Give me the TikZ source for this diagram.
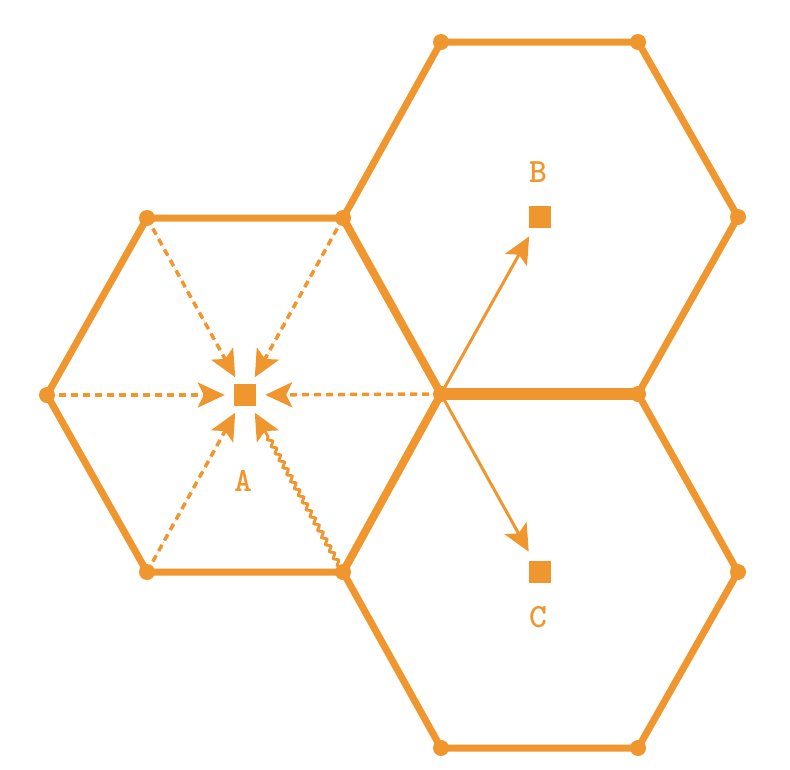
\documentclass[tikz,border=0pt]{standalone}
\usepackage{fontspec}
\usetikzlibrary{arrows.meta,decorations.pathmorphing}
\definecolor{hexor}{HTML}{F0962E}
\begin{document}
\begin{tikzpicture}[x=1pt,y=-1pt,
  edge/.style={draw=hexor,line width=7pt,line cap=round,line join=round},
  vdot/.style={circle,fill=hexor,minimum size=16pt,inner sep=0pt},
  sq/.style={rectangle,fill=hexor,minimum size=22pt,inner sep=0pt},
  target/.style={circle,minimum size=40pt,inner sep=0pt},
  bigtip/.style={-{Stealth[length=27pt,width=25pt,inset=6pt]}},
  dasharrow/.style={bigtip,draw=hexor,fill=hexor,line width=3.5pt,dash pattern=on 7pt off 5pt},
  solidarrow/.style={bigtip,draw=hexor,line width=3pt},
  lbl/.style={text=hexor,inner sep=0pt,font=\ttfamily\bfseries\fontsize{34}{34}\selectfont}]
\useasboundingbox (0,0) rectangle (790,769);
% vertices
\coordinate (L1) at (47,395);
\coordinate (L2) at (147,218);
\coordinate (L3) at (343,218);
\coordinate (M)  at (441,394);
\coordinate (L5) at (343,572);
\coordinate (L6) at (147,572);
\coordinate (T1) at (441,42);
\coordinate (T2) at (638,42);
\coordinate (T3) at (738,217);
\coordinate (T4) at (638,394);
\coordinate (R3) at (738,572);
\coordinate (R4) at (638,748);
\coordinate (R5) at (441,748);
% hexagon edges
\draw[edge] (L3) -- (L2) -- (L1) -- (L6) -- (L5);
\draw[edge] (L3) -- (T1) -- (T2) -- (T3) -- (T4);
\draw[edge] (L5) -- (R5) -- (R4) -- (R3) -- (T4);
\draw[edge,line width=8pt] (L3) -- (M) -- (L5);
\draw[edge,line width=12pt] (M) -- (T4);
% vertex dots
\foreach \v in {L1,L2,L3,M,L5,L6,T1,T2,T3,T4,R3,R4,R5}
  \node[vdot] (d\v) at (\v) {};
% targets
\node[target] (A) at (245,395) {};
\node[sq] (Asq) at (A) {};
\node[target,minimum size=44pt] (B) at (540,217) {};
\node[sq] (Bsq) at (B) {};
\node[target,minimum size=46pt] (C) at (540,572) {};
\node[sq] (Csq) at (C) {};
% labels
\node[lbl] (lA) at (243,481) {A};
\node[lbl] (lB) at (538,172) {B};
\node[lbl] (lC) at (538,617) {C};
% dashed arrows into A
\draw[dasharrow] (L1) -- (A);
\draw[dasharrow] (L2) -- (A);
\draw[dasharrow] (L3) -- (A);
\draw[dasharrow] (M) -- (A);
\draw[dasharrow] (L6) -- (A);
% wavy arrow
\draw[bigtip,draw=hexor,fill=hexor,line width=2.8pt,decorate,
  decoration={snake,amplitude=2pt,segment length=8pt,pre length=6pt,post length=24pt}]
  (L5) -- (A);
% solid arrows
\draw[solidarrow,fill=hexor] (M) -- (B);
\draw[solidarrow,fill=hexor] (M) -- (C);
\end{tikzpicture}
\end{document}
